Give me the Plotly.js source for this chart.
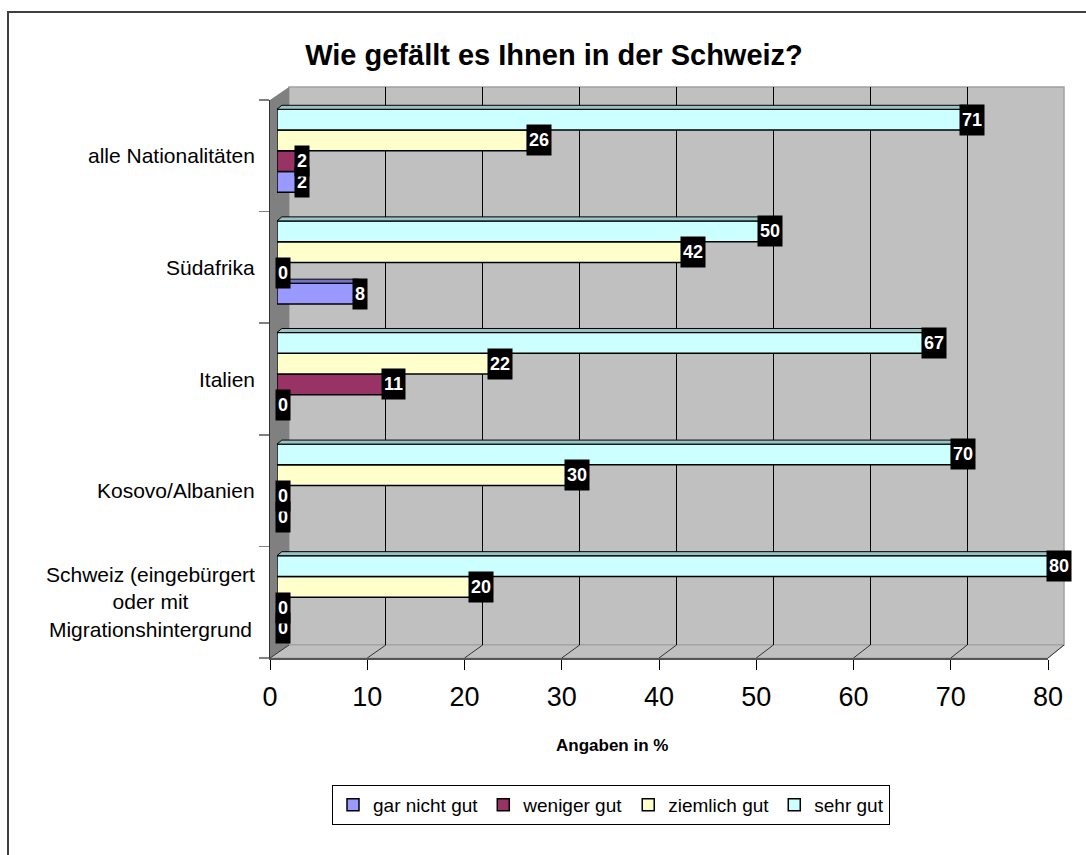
<!DOCTYPE html>
<html>
<head>
<meta charset="utf-8">
<script src="https://cdn.plot.ly/plotly-3.0.1.min.js"></script>
<style>html,body{margin:0;padding:0;background:#fff;}#chart{width:1086px;height:855px;}</style>
</head>
<body>
<div id="chart"></div>
<script>
// ---- data ----
const categories = ['alle Nationalitäten', 'Südafrika', 'Italien', 'Kosovo/Albanien', 'Schweiz (eingebürgert oder mit Migrationshintergrund'];
const categoryLabels = ['alle Nationalitäten', 'Südafrika', 'Italien', 'Kosovo/Albanien', 'Schweiz (eingebürgert<br>oder mit<br>Migrationshintergrund'];
const seriesNames = ['gar nicht gut', 'weniger gut', 'ziemlich gut', 'sehr gut'];
const garNichtGut = [2, 8, 0, 0, 0];
const wenigerGut = [2, 0, 11, 0, 0];
const ziemlichGut = [26, 42, 22, 30, 20];
const sehrGut = [71, 50, 67, 70, 80];
const xTicks = [0, 10, 20, 30, 40, 50, 60, 70, 80];
const titleText = 'Wie gefällt es Ihnen in der Schweiz?';
const xTitleText = 'Angaben in %';

// ---- style ----
const W = 1086, H = 855;
const fx = p => p / W;
const fy = p => 1 - p / H;
const FONT = 'Liberation Sans, Arial, sans-serif';
const colors = ['#9999FF', '#993366', '#FFFFCC', '#CCFFFF'];
const faceColors = ['#7373C0', '#732650', '#BFBF99', '#99C4C4'];
const seriesValues = [garNichtGut, wenigerGut, ziemlichGut, sehrGut];

// geometry (pixels)
const front = {x0: 270, x1: 1048, y0: 100, y1: 658};
const back = {x0: 289, x1: 1064, y0: 87, y1: 645};
const bars = {x0: 277, x1: 1048, y0: 95, y1: 653};
const bargap = 0.256;
const catPx = (front.y1 - front.y0) / categories.length;
const barPx = catPx * (1 - bargap) / seriesNames.length;

const traces = [];
// back-wall grid subplot (empty helper)
traces.push({type: 'scatter', x: [], y: [], xaxis: 'x', yaxis: 'y', showlegend: false, hoverinfo: 'skip'});
// bars
seriesValues.forEach((vals, k) => {
  traces.push({
    type: 'bar', orientation: 'h', name: seriesNames[k],
    x: vals, y: categories, xaxis: 'x2', yaxis: 'y2',
    marker: {color: colors[k], line: {color: '#000', width: 1.5}},
    hoverinfo: 'x+name'
  });
});
// front axes subplot (empty helper)
traces.push({type: 'scatter', x: [], y: [], xaxis: 'x3', yaxis: 'y3', showlegend: false, hoverinfo: 'skip'});

const shapes = [];
// outer frame
shapes.push({type: 'rect', xref: 'paper', yref: 'paper', x0: fx(8), x1: 1.02, y0: -0.02, y1: fy(12), line: {color: '#404040', width: 2}, layer: 'below'});
// back wall
shapes.push({type: 'rect', xref: 'paper', yref: 'paper', x0: fx(back.x0), x1: fx(back.x1), y0: fy(back.y1), y1: fy(back.y0), fillcolor: '#C0C0C0', line: {color: '#A0A0A0', width: 1.5}, layer: 'below'});
// side wall
shapes.push({type: 'path', xref: 'paper', yref: 'paper',
  path: `M${fx(front.x0)},${fy(front.y0)} L${fx(back.x0)},${fy(back.y0)} L${fx(back.x0)},${fy(back.y1)} L${fx(front.x0)},${fy(front.y1)} Z`,
  fillcolor: '#808080', line: {width: 0}, layer: 'below'});
// floor
shapes.push({type: 'path', xref: 'paper', yref: 'paper',
  path: `M${fx(front.x0)},${fy(front.y1)} L${fx(back.x0)},${fy(back.y1)} L${fx(back.x1)},${fy(back.y1)} L${fx(front.x1)},${fy(front.y1)} Z`,
  fillcolor: '#C0C0C0', line: {color: '#A0A0A0', width: 1}, layer: 'below'});
// floor diagonals
const xMax = xTicks[xTicks.length - 1];
xTicks.forEach(t => {
  const fxp = front.x0 + (front.x1 - front.x0) * t / xMax;
  const bxp = back.x0 + (back.x1 - back.x0) * t / xMax;
  shapes.push({type: 'line', xref: 'paper', yref: 'paper', x0: fx(fxp), y0: fy(front.y1), x1: fx(bxp), y1: fy(back.y1), line: {color: '#333', width: 1}, layer: 'below'});
});
// bar top faces (3-D look)
const skew = 0.5, faceH = 4;
categories.forEach((c, i) => {
  seriesValues.forEach((vals, k) => {
    const above = k < seriesValues.length - 1 ? seriesValues[k + 1][i] : 0;
    const v = vals[i];
    if (v > above) {
      const top = -barPx * seriesNames.length / 2 + barPx * (k + 1);
      shapes.push({type: 'path', xref: 'x2', yref: 'y2', ysizemode: 'pixel', yanchor: c,
        path: `M${above},${top} L${v},${top} L${v + skew},${top + faceH} L${above + skew},${top + faceH} Z`,
        fillcolor: faceColors[k], line: {color: '#000', width: 1}, layer: 'above'});
    }
  });
});

const annotations = [];
// data labels
seriesValues.forEach((vals, k) => {
  const off = -barPx * seriesNames.length / 2 + barPx * (k + 0.5);
  vals.forEach((v, i) => {
    annotations.push({xref: 'x2', yref: 'y2', x: v, y: categories[i], yshift: off, xanchor: 'left', yanchor: 'middle', xshift: -2,
      text: '<b>' + v + '</b>', showarrow: false, bgcolor: '#000', borderpad: 2, height: 26,
      font: {family: FONT, size: 18, color: '#fff'}});
  });
});
// category labels
categories.forEach((c, i) => {
  annotations.push({xref: 'paper', yref: 'y2', x: fx(257), y: c, yshift: -(front.y0 - bars.y0), xanchor: 'right', yanchor: 'middle',
    align: 'center', text: categoryLabels[i], showarrow: false, font: {family: FONT, size: 21, color: '#000'}});
});
// x axis title
annotations.push({xref: 'paper', yref: 'paper', x: fx(612), y: fy(745), xanchor: 'center', yanchor: 'middle',
  text: '<b>' + xTitleText + '</b>', showarrow: false, font: {family: FONT, size: 17, color: '#000'}});

const layout = {
  width: W, height: H, autosize: false,
  margin: {l: 0, r: 0, t: 0, b: 0, pad: 0},
  paper_bgcolor: '#fff', plot_bgcolor: 'rgba(0,0,0,0)',
  font: {family: FONT, color: '#000'},
  title: {text: '<b>' + titleText + '</b>', x: fx(554), xanchor: 'center', xref: 'paper', y: fy(55), yanchor: 'middle', yref: 'paper',
    font: {family: FONT, size: 29, color: '#000'}},
  barmode: 'group', bargap: bargap, bargroupgap: 0,
  showlegend: true,
  legend: {orientation: 'h', x: fx(611), xanchor: 'center', y: fy(805), yanchor: 'middle',
    bordercolor: '#000', borderwidth: 1, bgcolor: '#fff', font: {family: FONT, size: 19, color: '#000'}, traceorder: 'normal'},
  xaxis: {domain: [fx(back.x0), fx(back.x1)], range: [0, xMax], tickvals: xTicks.slice(1, -1), showticklabels: false, ticks: '',
    showgrid: true, gridcolor: '#000', gridwidth: 1, zeroline: false, showline: false, anchor: 'y', fixedrange: true},
  yaxis: {domain: [fy(back.y1), fy(back.y0)], range: [0, 1], visible: false, anchor: 'x', fixedrange: true},
  xaxis2: {domain: [fx(bars.x0), fx(bars.x1)], range: [0, xMax], visible: false, anchor: 'y2', fixedrange: true},
  yaxis2: {domain: [fy(bars.y1), fy(bars.y0)], type: 'category', categoryorder: 'array', categoryarray: categories.slice().reverse(),
    visible: false, anchor: 'x2', fixedrange: true},
  xaxis3: {domain: [fx(front.x0), fx(front.x1)], range: [0, xMax], tickvals: xTicks, ticktext: xTicks.map(String),
    ticks: 'outside', ticklen: 10, tickcolor: '#000', tickwidth: 1, showline: true, linecolor: '#555', linewidth: 2,
    showgrid: false, zeroline: false, tickfont: {family: FONT, size: 27, color: '#000'}, ticklabelstandoff: 4, anchor: 'y3', fixedrange: true},
  yaxis3: {domain: [fy(front.y1), fy(front.y0)], range: [0, categories.length], tickvals: categories.map((_, i) => i).concat([categories.length]),
    showticklabels: false, ticks: 'outside', ticklen: 10, tickcolor: '#808080', tickwidth: 1.5, showline: true, linecolor: '#333', linewidth: 1.5,
    showgrid: false, zeroline: false, anchor: 'x3', fixedrange: true},
  shapes: shapes,
  annotations: annotations
};

Plotly.newPlot('chart', traces, layout, {displayModeBar: false, staticPlot: true});
</script>
</body>
</html>
